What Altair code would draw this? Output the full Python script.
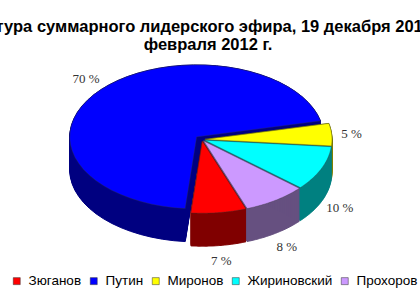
import altair as alt
import pandas as pd

# ---- data ----
names = ["Зюганов", "Путин", "Миронов", "Жириновский", "Прохоров"]
shares = [7, 70, 5, 10, 8]

title_lines = [
    "Структура суммарного лидерского эфира, 19 декабря 2011 – 19",
    "февраля 2012 г.",
]

# ---- styles ----
top_colors = ["#FF0000", "#0000FF", "#FFFF00", "#00FFFF", "#CC99FF"]
side_colors = ["#800000", "#000080", "#808000", "#008080", "#665080"]
draw_order = ["Путин", "Миронов", "Жириновский", "Прохоров", "Зюганов"]  # back to front

CX, CY, RX, RY = 202, 139.5, 127, 72    # projected ellipse of the pie's top face
DEPTH = 33                                # thickness of the 3-D pie
START_DEG = 160                           # where the first slice begins
N = 48                                    # arc resolution
LABEL_X, LABEL_Y = 20, 16
explode_expr = "datum.name === 'Путин' ? 7 : 3"

df = pd.DataFrame({"name": names, "share": shares, "idx": list(range(len(names)))})

xs = alt.Scale(domain=[0, 420], nice=False, zero=False)
ys = alt.Scale(domain=[0, 300], nice=False, zero=False, reverse=True)


def base():
    return (
        alt.Chart(df)
        .transform_window(cum="sum(share)", sort=[alt.SortField("idx")], frame=[None, 0])
        .transform_joinaggregate(total="sum(share)")
        .transform_calculate(a0=f"PI*{START_DEG}/180 + 2*PI*(datum.cum - datum.share)/datum.total")
        .transform_calculate(a1=f"PI*{START_DEG}/180 + 2*PI*datum.cum/datum.total")
        .transform_calculate(mid="(datum.a0 + datum.a1)/2")
        .transform_calculate(ex=explode_expr)
        .transform_calculate(cx=f"{CX} + datum.ex*sin(datum.mid)")
        .transform_calculate(cy=f"{CY} - datum.ex*cos(datum.mid)*{RY}/{RX}")
    )


def polygon(ch):
    return (
        ch.transform_calculate(ks=f"sequence(-1, {N + 2})")
        .transform_flatten(["ks"], as_=["k"])
        .transform_calculate(t=f"datum.a0 + (datum.a1 - datum.a0)*clamp(datum.k, 0, {N})/{N}")
        .transform_calculate(px=f"(datum.k < 0 || datum.k > {N}) ? datum.cx : datum.cx + {RX}*sin(datum.t)")
        .transform_calculate(py=f"(datum.k < 0 || datum.k > {N}) ? datum.cy : datum.cy - {RY}*cos(datum.t)")
    )


layers = []
for nm in draw_order:
    col = side_colors[names.index(nm)]
    side = (
        polygon(base().transform_filter(alt.datum.name == nm))
        .transform_calculate(ds=f"sequence(0, {DEPTH + 1})")
        .transform_flatten(["ds"], as_=["d"])
        .transform_calculate(pyd="datum.py + datum.d")
        .mark_line(fill=col, stroke=col, strokeWidth=1, strokeJoin="round")
        .encode(
            x=alt.X("px:Q", scale=xs, axis=None),
            y=alt.Y("pyd:Q", scale=ys, axis=None),
            order=alt.Order("k:Q"),
            detail=alt.Detail("d:O"),
        )
    )
    layers.append(side)

top = (
    polygon(base())
    .mark_line(stroke="#333333", strokeWidth=0.5, strokeOpacity=0.7, strokeJoin="round")
    .encode(
        x=alt.X("px:Q", scale=xs, axis=None),
        y=alt.Y("py:Q", scale=ys, axis=None),
        order=alt.Order("k:Q"),
        fill=alt.Fill(
            "name:N",
            scale=alt.Scale(domain=names, range=top_colors),
            sort=names,
            legend=alt.Legend(
                title=None,
                orient="none",
                legendX=10,
                legendY=274,
                direction="horizontal",
                columns=5,
                symbolType="square",
                symbolSize=49,
                symbolStrokeColor="#333333",
                symbolStrokeWidth=0.5,
                labelFont="Liberation Sans",
                labelFontSize=13.5,
                labelColor="#000000",
                labelOffset=5,
                columnPadding=5,
                padding=0,
            ),
        ),
    )
)
layers.append(top)

labels = (
    base()
    .transform_calculate(lx=f"datum.cx + {RX + LABEL_X}*sin(datum.mid)")
    .transform_calculate(
        ly=f"datum.cy - {RY + LABEL_Y}*cos(datum.mid) + (cos(datum.mid) < 0 ? {DEPTH} : 0)"
    )
    .transform_calculate(lab="datum.share + ' %'")
    .mark_text(font="Liberation Serif", fontSize=13, color="#333333")
    .encode(
        x=alt.X("lx:Q", scale=xs, axis=None),
        y=alt.Y("ly:Q", scale=ys, axis=None),
        text="lab:N",
    )
)
layers.append(labels)

chart = (
    alt.layer(*layers)
    .properties(
        width=420,
        height=300,
        padding=0,
        autosize=alt.AutoSizeParams(type="none"),
        background="white",
        title=alt.TitleParams(
            text=title_lines,
            font="Liberation Sans",
            fontSize=16.5,
            fontWeight="bold",
            color="#000000",
            anchor="middle",
            frame="group",
            baseline="top",
            lineHeight=17.5,
            offset=-53,
            dx=-2,
        ),
    )
    .configure_view(strokeOpacity=0)
)

chart.save("out.html", embed_options={"renderer": "svg", "actions": False})
